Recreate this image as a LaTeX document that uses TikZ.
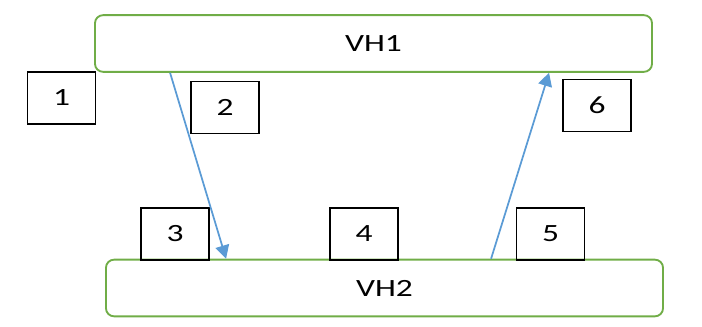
\documentclass[tikz,border=0pt]{standalone}
\usepackage{fontspec}
\setmainfont{Carlito}
\usepackage{tikz}
\usetikzlibrary{arrows.meta}
\definecolor{vhgreen}{HTML}{70AD47}
\definecolor{arblue}{HTML}{5B9BD5}
\newcommand{\wide}[1]{\scalebox{1.35}[1]{#1}}

\begin{document}
\begin{tikzpicture}[
  x=0.75pt, y=-0.75pt,
  font=\fontsize{18.6}{22}\selectfont,
  vh/.style={rectangle, rounded corners=6pt, draw=vhgreen, line width=1.4pt, minimum width=417.75pt, minimum height=42.5pt, inner sep=0pt},
  num/.style={rectangle, draw=black, line width=1.3pt, minimum width=51pt, minimum height=39pt, inner sep=0pt},
  ar/.style={-{Triangle[length=10pt, width=10.5pt]}, line width=1.3pt, draw=arblue}
]
\useasboundingbox (0,0) rectangle (702,327);

\node[vh] (vh1) at (373.5,43.5) {\wide{VH1}};
\node[vh] (vh2) at (384.5,288)  {\wide{VH2}};

\node[num] (b1) at (61.5,98)   {\wide{1}};
\node[num] (b2) at (225,107.5) {\wide{2}};
\node[num] (b3) at (175,234)   {\wide{3}};
\node[num] (b4) at (364,234)   {\wide{4}};
\node[num] (b5) at (550.5,234) {\wide{5}};
\node[num] (b6) at (597,105.5) {\wide{6}};

\draw[ar] ([xshift=57pt]vh1.south west) -- ([xshift=90.75pt]vh2.north west);
\draw[ar] ([xshift=289.5pt]vh2.north west) -- ([xshift=341.25pt]vh1.south west);

\end{tikzpicture}
\end{document}
